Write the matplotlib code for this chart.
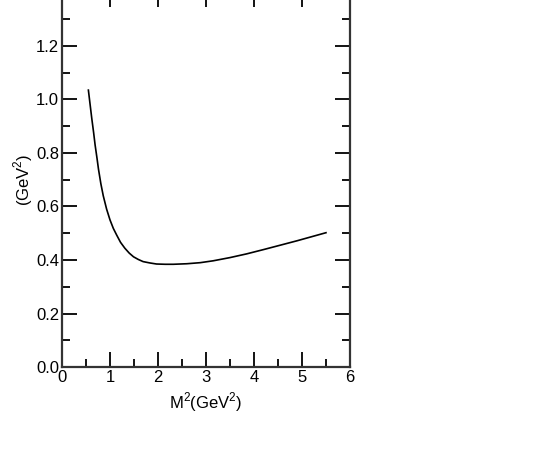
import matplotlib
matplotlib.use("Agg")
import matplotlib.pyplot as plt
from matplotlib.ticker import MultipleLocator

# curve
m2 = [0.55, 0.59, 0.62, 0.66, 0.69, 0.73, 0.76, 0.81, 0.86, 0.93, 1.00, 1.07, 1.14,
      1.22, 1.31, 1.40, 1.49, 1.59, 1.69, 1.83, 1.97, 2.15, 2.32, 2.60, 2.88, 3.15,
      3.50, 3.85, 4.20, 4.54, 4.90, 5.20, 5.50]
val = [1.035, 0.975, 0.93, 0.875, 0.83, 0.78, 0.74, 0.685, 0.64, 0.59, 0.55, 0.518, 0.493,
       0.466, 0.444, 0.426, 0.412, 0.402, 0.394, 0.389, 0.385, 0.384, 0.384, 0.386, 0.39, 0.397,
       0.409, 0.423, 0.439, 0.455, 0.472, 0.487, 0.502]

plt.rcParams['font.family'] = ['Liberation Sans Narrow', 'Liberation Sans', 'DejaVu Sans']
plt.rcParams['mathtext.fontset'] = 'custom'
plt.rcParams['mathtext.rm'] = 'Liberation Sans'

fig = plt.figure(figsize=(5.5, 4.63), dpi=100)
ax = fig.add_axes([0.1127, 0.2073, 0.5236, 0.809])

ax.plot(m2, val, color="black", lw=1.2)

ax.set_xlim(0, 6)
ax.set_ylim(0, 1.4)
ax.xaxis.set_major_locator(MultipleLocator(1))
ax.xaxis.set_minor_locator(MultipleLocator(0.5))
ax.yaxis.set_major_locator(MultipleLocator(0.2))
ax.yaxis.set_minor_locator(MultipleLocator(0.1))
# top label (1.4) falls outside the picture
ax.yaxis.set_major_formatter(plt.FuncFormatter(lambda v, p: "%.1f" % v if v < 1.3 else ""))

ax.tick_params(which="both", direction="in", top=True, right=True, width=1.3,
               labelsize=12, colors="black")
ax.tick_params(which="major", length=11, pad=2)
ax.tick_params(which="minor", length=6)
for s in ax.spines.values():
    s.set_linewidth(1.6)
    s.set_color("#333333")

ax.set_xlabel(r"M$^2$(GeV$^2$)", fontsize=12, labelpad=4)
ax.set_ylabel(r"(GeV$^2$)", fontsize=12)
ax.yaxis.set_label_coords(-0.092, 0.5)

fig.savefig("out.png", dpi=100)
